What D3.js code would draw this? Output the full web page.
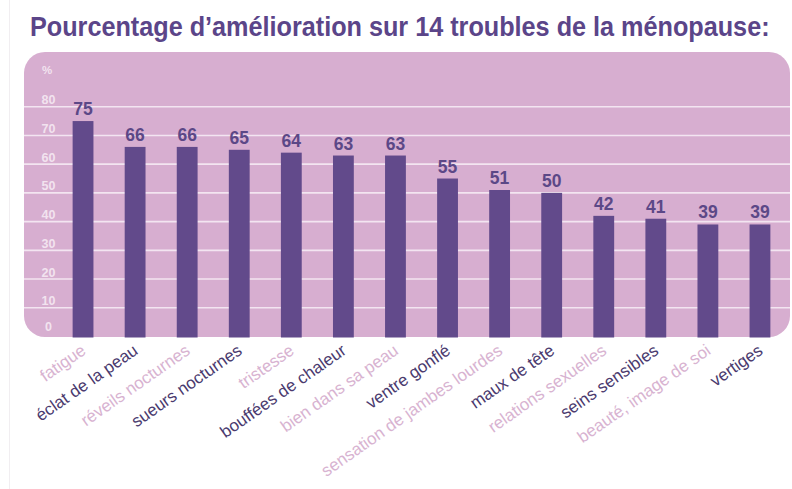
<!DOCTYPE html>
<html>
<head>
<meta charset="utf-8">
<script src="https://cdn.jsdelivr.net/npm/d3@7/dist/d3.min.js"></script>
<style>
  html, body { margin: 0; padding: 0; background: #ffffff; }
  svg { display: block; }
</style>
</head>
<body>
<svg id="chart" width="792" height="489"></svg>
<script>
// Symptoms and share of women reporting improvement (%)
const troubles = [
  "fatigue", "éclat de la peau", "réveils nocturnes", "sueurs nocturnes",
  "tristesse", "bouffées de chaleur", "bien dans sa peau", "ventre gonflé",
  "sensation de jambes lourdes", "maux de tête", "relations sexuelles",
  "seins sensibles", "beauté, image de soi", "vertiges"
];
const amelioration = [75, 66, 66, 65, 64, 63, 63, 55, 51, 50, 42, 41, 39, 39];
const yTicks = [0, 10, 20, 30, 40, 50, 60, 70, 80];
const titre = "Pourcentage d\u2019amélioration sur 14 troubles de la ménopause:";

const svg = d3.select("#chart");

const C = {
  title: "#5b4589",
  panel: "#d7aed0",
  grid: "#f3e5f1",
  tick: "#f2e3ef",
  bar: "#624a8b",
  value: "#5c4887",
  labelDark: "#4a3a6e",
  labelLight: "#d8b3d1"
};

const panel = { x: 24, y: 52, w: 766, h: 285 };

const y = d3.scaleLinear().domain([0, 80]).range([336.5, 106.7]);
const x = d3.scaleBand()
  .domain(troubles)
  .range([57, 786])
  .paddingInner(0.6)
  .paddingOuter(0.3);

// faint frame line on the left
svg.append("line")
  .attr("x1", 9.5).attr("x2", 9.5).attr("y1", 0).attr("y2", 489)
  .attr("stroke", "#f1eef1").attr("stroke-width", 1);

// title, squeezed horizontally into a condensed look
const titleG = svg.append("g");
const titleText = titleG.append("text")
  .attr("x", 0).attr("y", 0)
  .attr("font-family", "'Liberation Sans', Arial, sans-serif")
  .attr("font-weight", "bold")
  .attr("font-size", 27)
  .attr("fill", C.title)
  .text(titre);
const natural = titleText.node().getComputedTextLength();
titleG.attr("transform", `translate(30,36) scale(${740 / natural},1)`);

// rounded background panel
svg.append("rect")
  .attr("x", panel.x).attr("y", panel.y)
  .attr("width", panel.w).attr("height", panel.h)
  .attr("rx", 21).attr("ry", 21)
  .attr("fill", C.panel);

// horizontal gridlines
svg.append("g")
  .selectAll("line")
  .data(yTicks.filter(d => d > 0))
  .join("line")
  .attr("x1", panel.x).attr("x2", panel.x + panel.w)
  .attr("y1", d => y(d)).attr("y2", d => y(d))
  .attr("stroke", C.grid).attr("stroke-width", 1.6);

// y tick labels sitting just above each gridline
const tickG = svg.append("g")
  .attr("font-family", "'Liberation Sans', Arial, sans-serif")
  .attr("font-weight", "bold")
  .attr("font-size", 12.5)
  .attr("fill", C.tick)
  .attr("text-anchor", "middle");
tickG.selectAll("text")
  .data(yTicks)
  .join("text")
  .attr("x", 48.5)
  .attr("y", d => d === 0 ? y(d) - 6 : y(d) - 2.5)
  .text(d => d);
tickG.append("text")
  .attr("x", 47).attr("y", y(80) - 33)
  .attr("font-size", 11.5)
  .text("%");

// bars
svg.append("g")
  .selectAll("rect")
  .data(troubles)
  .join("rect")
  .attr("x", d => x(d))
  .attr("width", x.bandwidth())
  .attr("y", (d, i) => y(amelioration[i]))
  .attr("height", (d, i) => y(0) + 1 - y(amelioration[i]))
  .attr("fill", C.bar);

// value labels above bars
svg.append("g")
  .attr("font-family", "'Liberation Sans', Arial, sans-serif")
  .attr("font-weight", "bold")
  .attr("font-size", 17.5)
  .attr("fill", C.value)
  .attr("text-anchor", "middle")
  .selectAll("text")
  .data(troubles)
  .join("text")
  .attr("x", d => x(d) + x.bandwidth() / 2)
  .attr("y", (d, i) => y(amelioration[i]) - 6)
  .text((d, i) => amelioration[i]);

// rotated category labels, alternating colours
svg.append("g")
  .attr("font-family", "'Liberation Sans', Arial, sans-serif")
  .attr("font-size", 17)
  .attr("text-anchor", "end")
  .selectAll("text")
  .data(troubles)
  .join("text")
  .attr("transform", d => `translate(${x(d) + x.bandwidth() / 2 + 4},353) rotate(-35)`)
  .attr("fill", (d, i) => i % 2 === 0 ? C.labelLight : C.labelDark)
  .text(d => d);
</script>
</body>
</html>
